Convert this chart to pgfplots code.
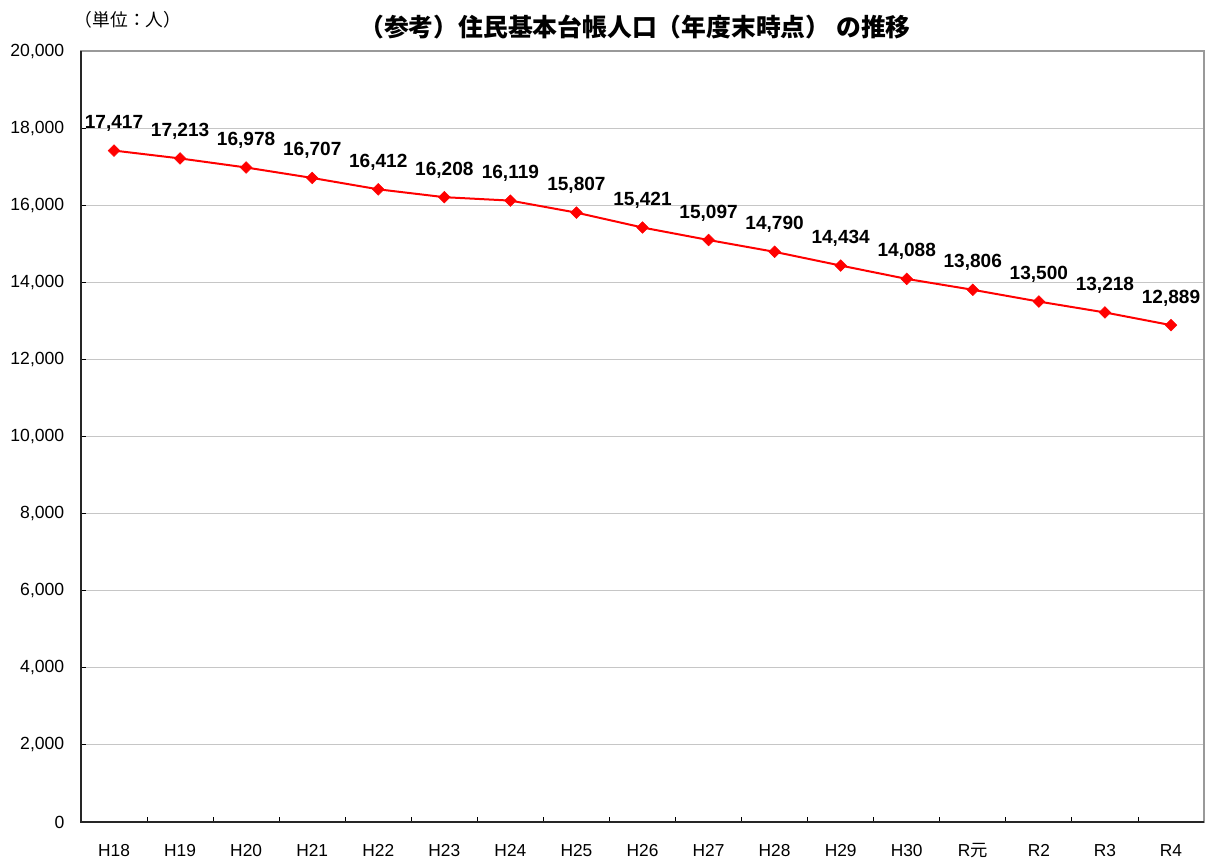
\documentclass[border=0pt]{standalone}
\usepackage{pgfplots}
\pgfplotsset{compat=1.18}
\usepackage{fontspec}
\setmainfont{Noto Sans CJK JP}
\newfontfamily\numfont{Liberation Sans}
\newfontfamily\cjk{Noto Sans CJK JP}
\begin{document}
\begin{tikzpicture}[x=1pt,y=1pt]
\useasboundingbox (0,0) rectangle (906,645.75);
\begin{axis}[
  at={(60.75pt,29.25pt)}, anchor=south west,
  scale only axis, width=842.25pt, height=578.25pt,
  xmin=-0.5, xmax=16.5, ymin=0, ymax=20000,
  xtick={0,...,16},
  xticklabels={H18,H19,H20,H21,H22,H23,H24,H25,H26,H27,H28,H29,H30,R{\cjk 元},R2,R3,R4},
  major x tick style={draw=none},
  minor xtick={0.5,1.5,...,15.5},
  minor x tick style={black, line width=0.6pt},
  minor tick length=3.5pt,
  xtick pos=bottom, ytick pos=left,
  tick align=inside,
  ytick={0,2000,...,20000},
  yticklabel style={font=\numfont\fontsize{13.2}{15}\selectfont, xshift=-9pt},
  xticklabel style={font=\numfont\fontsize{13}{15}\selectfont, anchor=base, yshift=-25.5pt},
  /pgf/number format/assume math mode=true,
  /pgf/number format/1000 sep={,},
  scaled y ticks=false,
  ytick style={black, line width=0.6pt},
  major tick length=3.5pt,
  ymajorgrids, grid style={gray!45, line width=0.6pt},
  axis line style={gray!80, line width=1.4pt},
  clip=false,
  nodes near coords,
  every node near coord/.append style={font=\numfont\bfseries\fontsize{14.3}{16}\selectfont, anchor=base, yshift=16.5pt, text=black,
    /pgf/number format/1000 sep={,}},
]
\draw[black!85, line width=1.5pt] (rel axis cs:0,1) -- (rel axis cs:0,0) -- (rel axis cs:1,0);
\addplot[red, line width=1.5pt, mark=square*, mark size=3.1pt, mark options={fill=red, draw=red, line width=0.4pt, rotate=45}]
coordinates {
(0,17417) (1,17213) (2,16978) (3,16707) (4,16412) (5,16208) (6,16119) (7,15807) (8,15421)
(9,15097) (10,14790) (11,14434) (12,14088) (13,13806) (14,13500) (15,13218) (16,12889)
};
\end{axis}
\node[font=\bfseries\fontsize{18.6}{22}\selectfont] at (476.25pt,625.5pt) {（参考）住民基本台帳人口（年度末時点） の推移};
\node[font=\fontsize{13.3}{15}\selectfont] at (96pt,630.75pt) {（単位：人）};
\end{tikzpicture}
\end{document}
